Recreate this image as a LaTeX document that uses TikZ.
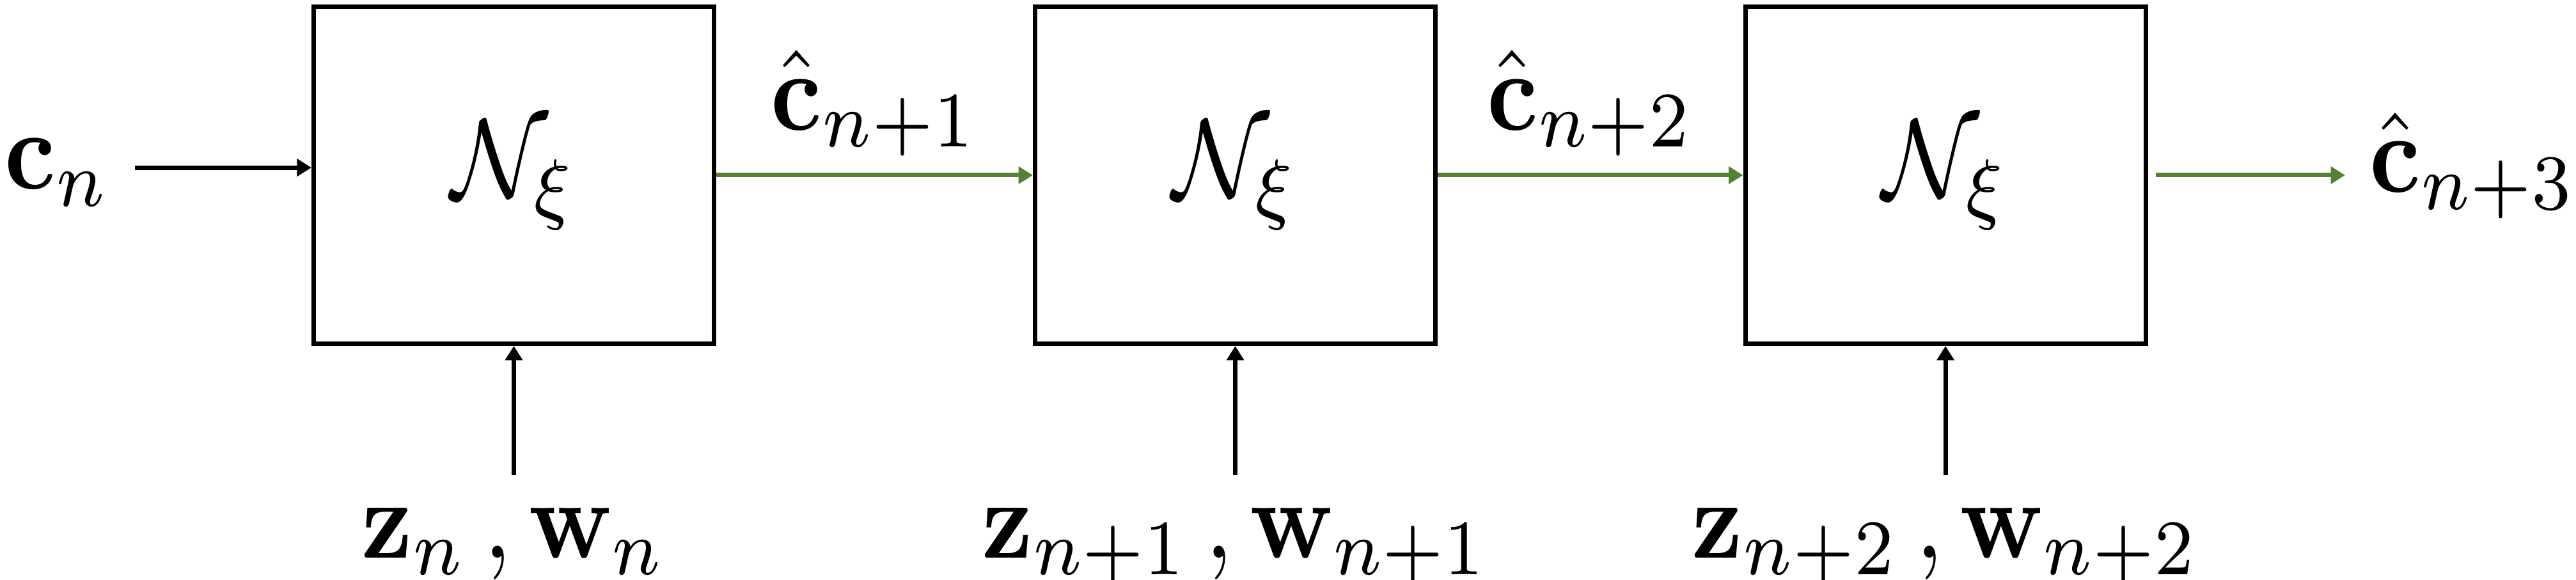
\documentclass[tikz,border=0pt]{standalone}
\usepackage{amsmath}
\usepackage{amssymb}
\usepackage{graphicx}
\usepackage{tikz}
\usetikzlibrary{arrows.meta,positioning}
\definecolor{predgreen}{RGB}{84,130,53}
% labels are a little narrower than plain CM
\newcommand{\narrowmath}[1]{\scalebox{0.89}[1]{$#1$}}

\begin{document}
\begin{tikzpicture}[node distance=0.97cm,
    block/.style={draw, line width=0.4pt, minimum width=1.252cm, minimum height=1.054cm, inner sep=0pt},
    lbl/.style={inner sep=0pt},
    >={Triangle[length=0.045cm,width=0.053cm]}]
    \useasboundingbox (0,0) rectangle (8.056,1.814);

    \node[block] (N1) at (1.607,1.266) {\narrowmath{\mathcal{N}_\xi}\hspace{0.1cm}};
    \node[block] (N2) [right=0.99cm of N1] {\narrowmath{\mathcal{N}_\xi}};
    \node[block] (N3) [right=0.955cm of N2] {\narrowmath{\mathcal{N}_\xi}};

    \node[lbl, anchor=base west] (cin) at (0.008,1.222) {\narrowmath{\mathbf{c}_n}};
    \node[lbl, anchor=base west] (cout) at (7.404,1.212) {\narrowmath{\hat{\mathbf{c}}_{n+3}}};

    \node[lbl] (in1) [below=0.5cm of N1] {\narrowmath{\mathbf{z}_n\,,\mathbf{w}_n}};
    \node[lbl] (in2) [below=0.5cm of N2] {\narrowmath{\mathbf{z}_{n+1}\,,\mathbf{w}_{n+1}}};
    \node[lbl] (in3) [below=0.5cm of N3] {\narrowmath{\mathbf{z}_{n+2}\,,\mathbf{w}_{n+2}}};

    \coordinate (cstart) at ([xshift=0.07cm,yshift=0.016cm]cin.east);
    \draw[->] (cstart) -- (cstart -| N1.west);

    \path[->] (N1) edge [predgreen] node[above, inner sep=1.5pt, text=black] {\narrowmath{\hat{\mathbf{c}}_{n+1}}} (N2)
              (N2) edge [predgreen] node[above, inner sep=1.5pt, text=black] {\narrowmath{\hat{\mathbf{c}}_{n+2}}} (N3)
              ([xshift=0.024cm]N3.east) edge [predgreen] ([xshift=-0.07cm]cout.west |- N3.east)
              ([yshift=0.095cm]in1.north) edge (N1.south)
              ([yshift=0.095cm]in2.north) edge (N2.south)
              ([yshift=0.095cm]in3.north) edge (N3.south);
\end{tikzpicture}
\end{document}
